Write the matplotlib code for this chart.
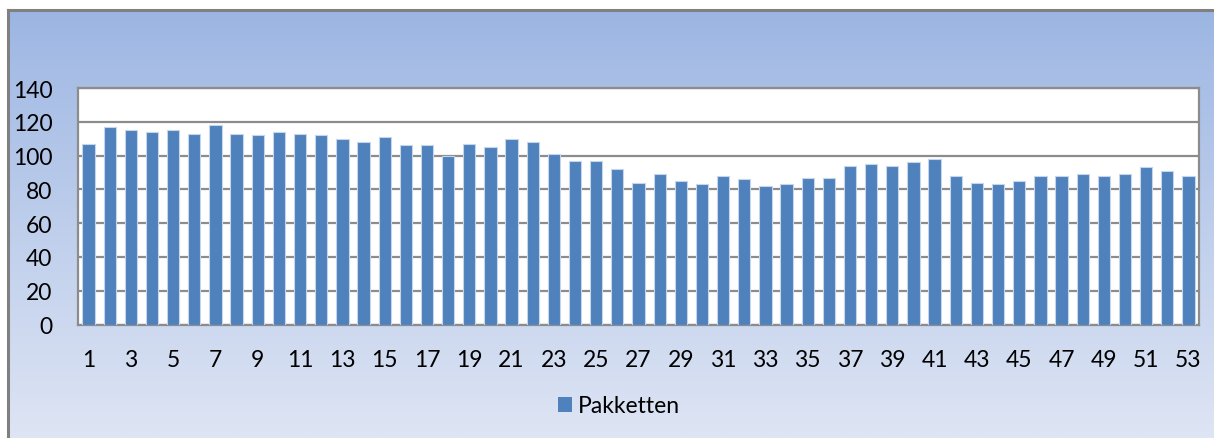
import numpy as np
import matplotlib
matplotlib.use("Agg")
import matplotlib.pyplot as plt
from matplotlib.patches import Patch

weeks = list(range(1, 54))
pakketten = [107, 117, 115, 114, 115, 113, 118, 113, 112, 114,
             113, 112, 110, 108, 111, 106, 106, 100, 107, 105,
             110, 108, 101, 97, 97, 92, 84, 89, 85, 83,
             88, 86, 82, 83, 87, 87, 94, 95, 94, 96,
             98, 88, 84, 83, 85, 88, 88, 89, 88, 89,
             93, 91, 88]
series_name = "Pakketten"
y_ticks = [0, 20, 40, 60, 80, 100, 120, 140]
x_tick_labels = [str(w) for w in weeks[::2]]

plt.rcParams['font.family'] = ['Lato', 'DejaVu Sans']

W, H = 1214, 439
fig = plt.figure(figsize=(W / 100, H / 100), dpi=100)

# background gradient for chart area
bg = fig.add_axes([7.5 / W, 0, 1 - 7.5 / W, (H - 10.5) / H])
top = np.array([155, 181, 226]) / 255
mid = np.array([165, 188, 229]) / 255
bot = np.array([222, 229, 244]) / 255
n = 256
t = np.linspace(0, 1, n)
grad = np.zeros((n, 2, 3))
for i, tt in enumerate(t):
    if tt < 0.12:
        c = top + (mid - top) * (tt / 0.12)
    else:
        c = mid + (bot - mid) * ((tt - 0.12) / 0.88)
    grad[i, :, :] = c
bg.imshow(grad, aspect='auto', extent=[0, 1, 0, 1], origin='upper')
bg.set_xlim(0, 1)
bg.set_ylim(0, 1)
bg.axis('off')
# border
fig.add_artist(plt.Line2D([7.5 / W, 7.5 / W], [0, (H - 10.5) / H], color='#808080', lw=2.2))
fig.add_artist(plt.Line2D([7.5 / W, 1], [(H - 10.5) / H, (H - 10.5) / H], color='#808080', lw=2.2))

ax = fig.add_axes([78 / W, (H - 325.5) / H, (1199 - 78) / W, (325.5 - 89) / H])
ax.set_facecolor('white')
x = np.arange(len(weeks))
ax.bar(x, pakketten, width=0.58, color='#4F81BD', edgecolor='#C5D5EA', linewidth=0.8, zorder=3)
ax.set_xlim(-0.5, len(weeks) - 0.5)
ax.set_ylim(0, 140)
ax.set_yticks(y_ticks)
ax.set_yticklabels([str(v) for v in y_ticks], fontsize=16.5)
ax.set_xticks(x[::2])
ax.set_xticklabels(x_tick_labels, fontsize=16.5)
ax.tick_params(axis='both', length=0, colors='black')
ax.tick_params(axis='y', pad=18.5)
ax.tick_params(axis='x', pad=18)
ax.yaxis.grid(True, color='#8C8C8C', lw=1.6, zorder=1)
ax.set_axisbelow(True)
for s in ax.spines.values():
    s.set_color('#8C8C8C')
    s.set_linewidth(1.6)

handle = Patch(facecolor='#4F81BD', edgecolor='none')
fig.legend([handle], [series_name], loc='center', bbox_to_anchor=(619 / W, 1 - 407 / H),
           frameon=False, fontsize=16.5, handlelength=0.6, handleheight=0.6, handletextpad=0.25)

fig.savefig('out.png', dpi=100)
